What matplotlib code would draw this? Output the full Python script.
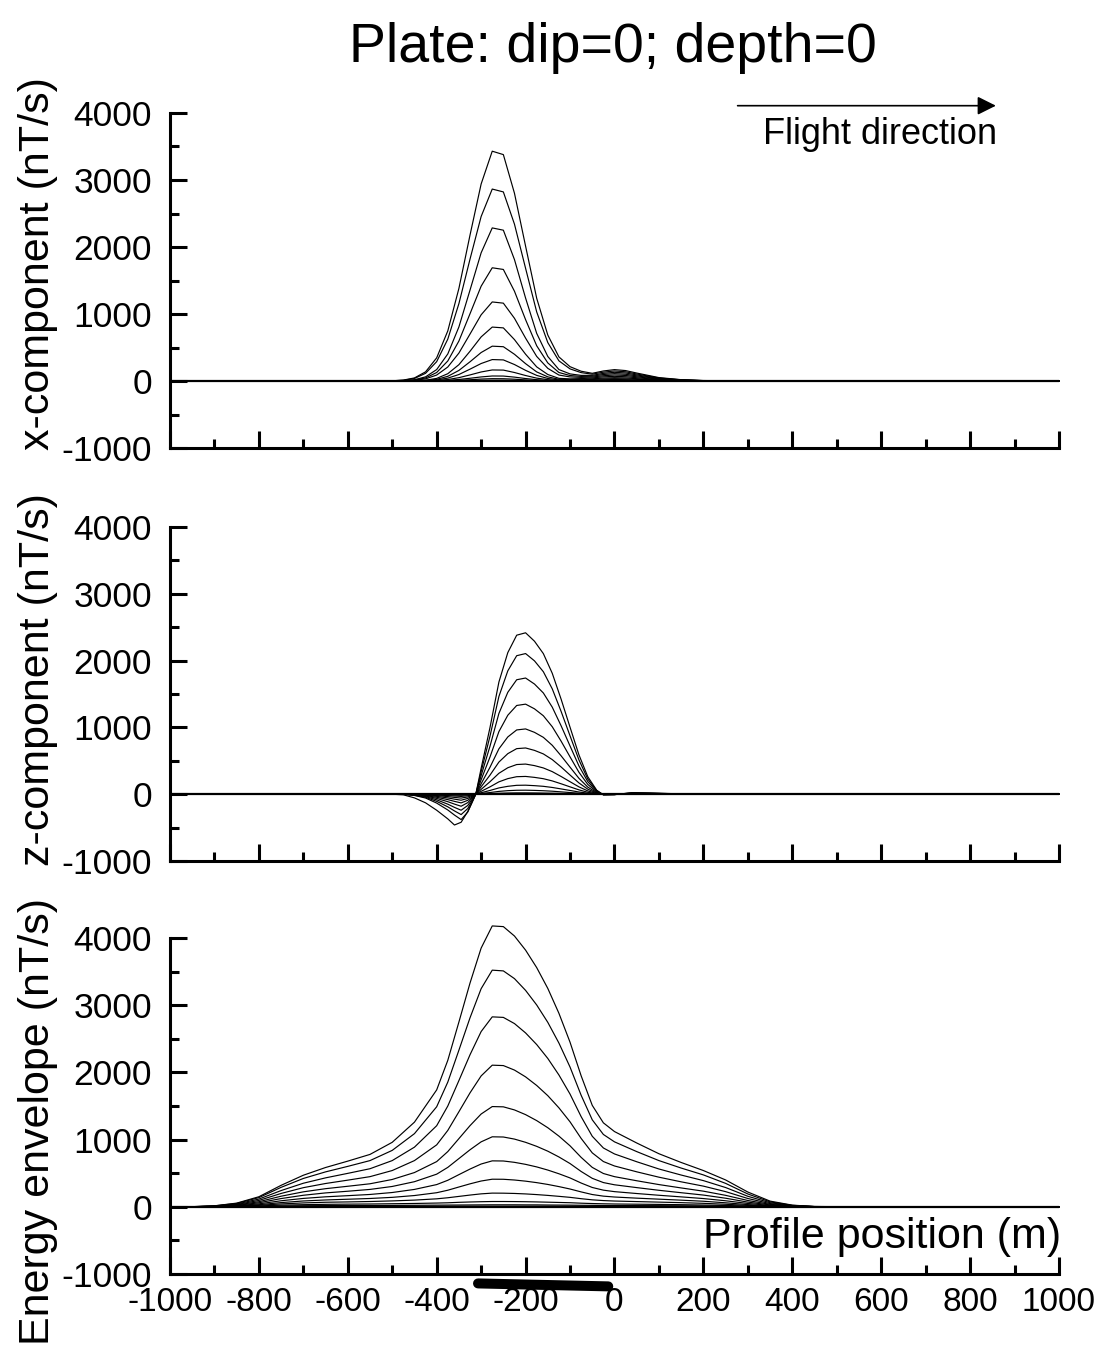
import matplotlib
matplotlib.use("Agg")
import matplotlib.pyplot as plt
from matplotlib.ticker import MultipleLocator

plt.rcParams['font.family'] = ['Liberation Sans', 'DejaVu Sans']
plt.rcParams['axes.unicode_minus'] = False

# ---- data (profile position in m, response in nT/s) ----
x_top = [-1000, -525, -500, -475, -450, -425, -400, -375, -350, -325, -300, -275, -250, -225,
         -200, -175, -150, -125, -100, -75, -50, -25, 0, 25, 50, 100, 150, 200, 300, 1000]
x_comp = [
    [0, 1, 3, 14, 46, 137, 346, 748, 1382, 2178, 2940, 3430, 3379, 2802, 2013, 1235, 686, 360, 214, 146, 115, 150, 170, 156, 119, 51, 20, 7, 0, 0],
    [0, 1, 3, 11, 38, 115, 289, 625, 1155, 1819, 2455, 2865, 2822, 2341, 1682, 1031, 573, 301, 181, 125, 102, 132, 150, 138, 105, 45, 18, 6, 0, 0],
    [0, 0, 1, 5, 19, 62, 171, 404, 807, 1357, 1913, 2285, 2251, 1812, 1238, 711, 366, 171, 106, 84, 85, 114, 130, 120, 91, 39, 16, 5, 0, 0],
    [0, 0, 1, 4, 14, 46, 127, 299, 597, 1004, 1415, 1690, 1665, 1340, 916, 526, 270, 127, 82, 69, 72, 97, 110, 101, 77, 33, 13, 4, 0, 0],
    [0, 0, 1, 3, 10, 32, 89, 209, 417, 701, 988, 1180, 1162, 936, 640, 367, 189, 89, 61, 54, 59, 79, 90, 83, 63, 27, 11, 4, 0, 0],
    [0, 0, 0, 1, 3, 12, 39, 109, 244, 444, 658, 805, 793, 618, 400, 211, 97, 40, 32, 36, 46, 62, 70, 64, 49, 21, 8, 3, 0, 0],
    [0, 0, 0, 0, 2, 8, 25, 70, 158, 287, 425, 520, 512, 399, 259, 136, 62, 26, 22, 26, 33, 44, 50, 46, 35, 15, 6, 2, 0, 0],
    [0, 0, 0, 0, 1, 5, 16, 43, 97, 177, 261, 320, 315, 246, 159, 84, 38, 16, 15, 18, 23, 31, 35, 32, 25, 11, 4, 1, 0, 0],
    [0, 0, 0, 0, 1, 2, 8, 22, 50, 91, 135, 165, 163, 127, 82, 43, 20, 8, 9, 11, 14, 19, 22, 20, 15, 7, 3, 1, 0, 0],
    [0, 0, 0, 0, 0, 1, 4, 10, 23, 41, 61, 75, 74, 58, 37, 20, 9, 4, 4, 5, 8, 11, 12, 11, 8, 4, 1, 0, 0, 0],
    [0, 0, 0, 0, 0, 0, 2, 5, 11, 19, 29, 35, 34, 27, 17, 9, 4, 2, 2, 3, 4, 5, 6, 6, 4, 2, 1, 0, 0, 0],
    [0, 0, 0, 0, 0, 0, 0, 2, 4, 7, 10, 12, 12, 9, 6, 3, 1, 1, 1, 1, 1, 2, 2, 2, 1, 1, 0, 0, 0, 0],
]

x_mid = [-1000, -500, -475, -450, -425, -400, -375, -360, -345, -330, -312, -300, -280, -260,
         -240, -220, -200, -180, -160, -140, -120, -100, -80, -60, -40, -25, 0, 40, 80, 150, 250, 1000]
z_comp = [
    [0, 0, -9, -55, -129, -240, -369, -461, -420, -258, 0, 387, 1000, 1679, 2119, 2380, 2416, 2290, 2104, 1810, 1421, 1003, 590, 261, 60, -10, -7, 24, 18, 5, 0, 0],
    [0, 0, 0, -19, -57, -133, -236, -312, -380, -266, 0, 337, 871, 1463, 1846, 2073, 2105, 1996, 1833, 1577, 1238, 874, 514, 227, 53, -8, -6, 21, 16, 4, 0, 0],
    [0, 0, 0, -15, -46, -107, -189, -250, -305, -214, 0, 278, 720, 1209, 1525, 1713, 1739, 1649, 1515, 1303, 1023, 722, 424, 188, 43, -7, -5, 17, 13, 3, 0, 0],
    [0, 0, 0, -12, -36, -84, -149, -197, -240, -168, 0, 216, 558, 937, 1182, 1328, 1348, 1278, 1174, 1010, 793, 559, 329, 146, 34, -5, -4, 13, 10, 3, 0, 0],
    [0, 0, 0, -9, -27, -63, -112, -148, -180, -126, 0, 156, 404, 679, 857, 962, 977, 926, 851, 732, 574, 405, 238, 106, 24, -4, -3, 10, 7, 2, 0, 0],
    [0, 0, 0, -7, -20, -46, -81, -107, -130, -91, 0, 111, 286, 481, 607, 682, 692, 656, 603, 518, 407, 287, 169, 75, 17, -3, -2, 7, 5, 1, 0, 0],
    [0, 0, 0, -5, -14, -32, -56, -74, -90, -63, 0, 72, 187, 313, 396, 444, 451, 428, 393, 338, 265, 187, 110, 49, 11, -2, -1, 5, 3, 1, 0, 0],
    [0, 0, 0, -3, -9, -20, -36, -48, -58, -41, 0, 43, 110, 185, 233, 262, 266, 252, 232, 199, 156, 110, 65, 29, 7, -1, -1, 3, 2, 1, 0, 0],
    [0, 0, 0, -2, -5, -12, -20, -27, -33, -23, 0, 22, 56, 94, 118, 133, 135, 128, 118, 101, 79, 56, 33, 15, 3, 0, 0, 1, 1, 0, 0, 0],
    [0, 0, 0, -1, -2, -6, -10, -13, -16, -11, 0, 10, 25, 42, 53, 59, 60, 57, 52, 45, 35, 25, 15, 6, 2, 0, 0, 1, 0, 0, 0, 0],
    [0, 0, 0, 0, -1, -2, -4, -5, -6, -4, 0, 3, 8, 14, 18, 20, 20, 19, 17, 15, 12, 8, 5, 2, 1, 0, 0, 0, 0, 0, 0, 0],
]

x_bot = [-1000, -950, -900, -850, -800, -750, -700, -650, -600, -550, -500, -450, -400, -375,
         -350, -325, -300, -275, -250, -225, -200, -175, -150, -125, -100, -75, -50, -25, 0,
         50, 100, 150, 200, 250, 300, 350, 400, 450, 500, 600, 1000]
energy = [
    [0, 2, 15, 55, 150, 320, 470, 585, 680, 780, 960, 1260, 1740, 2180, 2750, 3330, 3850, 4180, 4170, 4030, 3820, 3560, 3250, 2880, 2450, 1950, 1510, 1250, 1120, 950, 790, 660, 540, 400, 220, 85, 25, 5, 2, 0, 0],
    [0, 2, 14, 50, 137, 290, 422, 520, 602, 688, 840, 1089, 1489, 1856, 2331, 2813, 3246, 3522, 3511, 3396, 3221, 3004, 2745, 2437, 2080, 1660, 1295, 1077, 967, 822, 688, 577, 475, 349, 191, 74, 22, 4, 2, 0, 0],
    [0, 1, 11, 42, 115, 242, 351, 431, 498, 567, 688, 888, 1207, 1500, 1879, 2263, 2608, 2827, 2819, 2727, 2588, 2415, 2208, 1962, 1678, 1342, 1050, 876, 787, 671, 563, 473, 390, 287, 157, 61, 18, 3, 1, 0, 0],
    [0, 1, 9, 34, 95, 199, 285, 347, 397, 449, 540, 688, 922, 1137, 1415, 1696, 1948, 2108, 2102, 2035, 1934, 1806, 1654, 1473, 1265, 1018, 803, 674, 608, 521, 441, 372, 308, 226, 124, 48, 15, 3, 1, 0, 0],
    [0, 1, 7, 27, 76, 158, 223, 270, 306, 343, 407, 510, 673, 822, 1015, 1208, 1381, 1492, 1488, 1442, 1372, 1283, 1177, 1052, 908, 736, 587, 496, 449, 388, 331, 281, 233, 171, 94, 37, 11, 2, 1, 0, 0],
    [0, 0, 6, 21, 60, 123, 172, 207, 232, 259, 303, 374, 486, 587, 718, 849, 967, 1042, 1039, 1008, 960, 900, 828, 742, 644, 526, 424, 361, 328, 286, 246, 210, 175, 128, 70, 28, 9, 2, 0, 0, 0],
    [0, 0, 4, 16, 44, 90, 125, 149, 166, 184, 213, 259, 331, 395, 479, 562, 637, 684, 682, 662, 632, 594, 547, 492, 430, 354, 288, 248, 226, 198, 172, 148, 123, 90, 50, 20, 6, 1, 0, 0, 0],
    [0, 0, 3, 11, 31, 63, 87, 102, 113, 124, 141, 168, 210, 247, 295, 342, 384, 411, 410, 399, 382, 360, 333, 301, 265, 222, 183, 159, 146, 129, 114, 99, 83, 60, 33, 13, 4, 1, 0, 0, 0],
    [0, 0, 2, 8, 22, 43, 58, 68, 73, 79, 88, 100, 119, 135, 155, 175, 193, 204, 203, 199, 192, 182, 170, 156, 141, 121, 104, 93, 86, 78, 70, 62, 52, 38, 21, 9, 3, 0, 0, 0, 0],
    [0, 0, 1, 4, 13, 25, 32, 37, 40, 42, 46, 50, 56, 60, 67, 72, 76, 79, 79, 78, 76, 73, 69, 65, 61, 54, 49, 45, 42, 39, 36, 32, 27, 20, 11, 5, 2, 0, 0, 0, 0],
    [0, 0, 1, 2, 6, 12, 16, 18, 19, 20, 21, 23, 25, 26, 27, 28, 29, 30, 30, 30, 29, 29, 27, 26, 25, 23, 22, 20, 19, 18, 17, 15, 13, 9, 5, 2, 1, 0, 0, 0, 0],
    [0, 0, 0, 1, 2, 5, 6, 7, 7, 8, 8, 9, 9, 9, 10, 10, 10, 10, 10, 10, 10, 10, 10, 9, 9, 8, 8, 8, 7, 7, 6, 6, 5, 4, 2, 1, 0, 0, 0, 0, 0],
]

# plate position (thick bar under the profile axis)
plate_x = [-307, -14]
plate_y = [-1140, -1184]


def style_axis(ax, show_xlabels):
    """坐标轴样式：只保留左/下轴，刻度朝内"""
    for side in ("top", "right"):
        ax.spines[side].set_visible(False)
    for side in ("left", "bottom"):
        ax.spines[side].set_linewidth(2.2)
    ax.set_xlim(-1000, 1000)
    ax.set_ylim(-1000, 4000)
    ax.xaxis.set_major_locator(MultipleLocator(200))
    ax.xaxis.set_minor_locator(MultipleLocator(100))
    ax.yaxis.set_major_locator(MultipleLocator(1000))
    ax.yaxis.set_minor_locator(MultipleLocator(500))
    ax.tick_params(which="both", direction="in", width=2.2, top=False, right=False)
    ax.tick_params(which="major", length=12)
    ax.tick_params(which="minor", length=6.5)
    ax.tick_params(axis="y", labelsize=25.5, pad=13)
    ax.tick_params(axis="x", labelsize=24, pad=9, labelbottom=show_xlabels)
    ax.axhline(0, color="black", lw=1.6, zorder=3)


fig = plt.figure(figsize=(11.03, 13.68), dpi=100)
ax_top = fig.add_axes([0.1541, 0.6725, 0.806, 0.2449])
ax_mid = fig.add_axes([0.1541, 0.3706, 0.806, 0.2442])
ax_bot = fig.add_axes([0.1541, 0.0687, 0.806, 0.2456])

for row in x_comp:
    ax_top.plot(x_top, row, color="black", lw=0.85, clip_on=False)
for row in z_comp:
    ax_mid.plot(x_mid, row, color="black", lw=0.85, clip_on=False)
for row in energy:
    ax_bot.plot(x_bot, row, color="black", lw=0.85, clip_on=False)

style_axis(ax_top, False)
style_axis(ax_mid, False)
style_axis(ax_bot, True)

# flight direction arrow
ax_top.annotate("", xy=(858, 4109), xytext=(277, 4109), annotation_clip=False,
                arrowprops=dict(arrowstyle="-|>", color="black", lw=1.2,
                                mutation_scale=28, shrinkA=0, shrinkB=0))
ax_top.text(597, 3538, "Flight direction", fontsize=26, ha="center", va="baseline")

ax_bot.text(1005, -617, "Profile position (m)", fontsize=31, ha="right", va="baseline")
ax_bot.plot(plate_x, plate_y, color="black", lw=7.2, solid_capstyle="round", clip_on=False)

fig.text(0.556, 0.9547, "Plate: dip=0; depth=0", fontsize=40, ha="center", va="baseline")
fig.text(0.0345, 0.8077, "x-component (nT/s)", fontsize=31, rotation=90, ha="center", va="center")
fig.text(0.0345, 0.503, "z-component (nT/s)", fontsize=31, rotation=90, ha="center", va="center")
fig.text(0.0345, 0.180, "Energy envelope (nT/s)", fontsize=31, rotation=90, ha="center", va="center")

fig.savefig("out.png", dpi=100)
